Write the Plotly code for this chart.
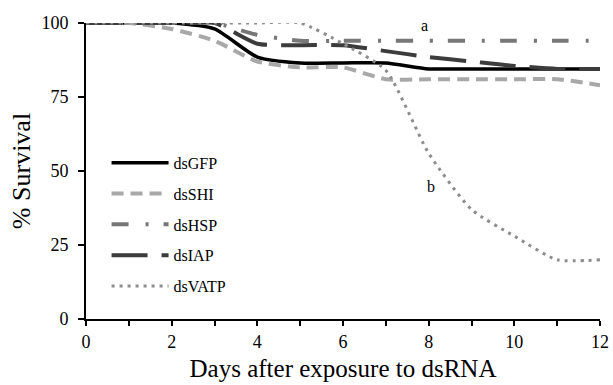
import plotly.graph_objects as go

days = list(range(13))
ds_gfp = [100, 100, 100, 98, 88.5, 86.5, 86.5, 86.5, 84.5, 84.5, 84.5, 84.5, 84.5]
ds_shi = [100, 100, 98, 94, 87, 85, 85, 81, 81, 81, 81, 81, 79]
ds_hsp = [100, 100, 100, 100, 96, 94, 94, 94, 94, 94, 94, 94, 94]
ds_iap = [100, 100, 100, 100, 93, 92.5, 92.5, 90.5, 88.5, 87, 85.5, 84.5, 84.5]
ds_vatp = [100, 100, 100, 100, 100, 100, 93, 84, 56, 37, 28, 20, 20]

x_ticks = [0, 2, 4, 6, 8, 10, 12]
y_ticks = [0, 25, 50, 75, 100]

series = [
    ("dsGFP", ds_gfp, "#000000", 3.5, "solid"),
    ("dsSHI", ds_shi, "#a8a8a8", 4, "12px,7px"),
    ("dsHSP", ds_hsp, "#777777", 4, "17px,17px,3px,15px"),
    ("dsIAP", ds_iap, "#3c3c3c", 4, "36px,14px"),
    ("dsVATP", ds_vatp, "#8c8c8c", 3, "3px,5px"),
]

FONT = "Liberation Serif"

fig = go.Figure()
for i, (name, vals, color, w, dash) in enumerate(series):
    fig.add_trace(go.Scatter(
        x=days, y=vals, name=name, mode="lines",
        line=dict(color=color, width=w, dash=dash, shape="spline", smoothing=0.6),
        legendgroup=f"g{i}",
    ))

fig.add_annotation(x=7.9, y=99, text="a", showarrow=False,
                   font=dict(family=FONT, size=16, color="black"))
fig.add_annotation(x=8.05, y=44.6, text="b", showarrow=False,
                   font=dict(family=FONT, size=16, color="black"))

fig.update_layout(
    width=613, height=385,
    margin=dict(l=86, r=13, t=23, b=66, autoexpand=False),
    plot_bgcolor="white", paper_bgcolor="white",
    font=dict(family=FONT, size=18, color="black"),
    showlegend=True,
    legend=dict(x=0.04, y=0.585, xanchor="left", yanchor="top",
                bgcolor="rgba(0,0,0,0)", font=dict(family=FONT, size=16),
                tracegroupgap=7, traceorder="grouped", itemwidth=57),
    xaxis=dict(range=[0, 12], tickvals=x_ticks, ticks="outside", ticklen=5,
               tickwidth=1.5, tickcolor="black", showline=True, linecolor="black",
               linewidth=2, showgrid=False, zeroline=False, automargin=False,
               minor=dict(dtick=1, ticks="outside", ticklen=5, tickwidth=1.5,
                          tickcolor="black", showgrid=False),
               title=dict(text="Days after exposure to dsRNA",
                          font=dict(family=FONT, size=25), standoff=9),
               tickfont=dict(family=FONT, size=18)),
    yaxis=dict(range=[0, 100], tickvals=y_ticks, ticks="outside", ticklen=6,
               tickwidth=1.5, tickcolor="black", showline=True, linecolor="black",
               linewidth=2, showgrid=False, zeroline=False, automargin=False,
               ticklabelstandoff=6,
               title=dict(text="% Survival", font=dict(family=FONT, size=26), standoff=3),
               tickfont=dict(family=FONT, size=18)),
)

fig.write_html("out.html", config={"displayModeBar": False},
               post_script="document.body.style.margin='0';document.body.style.overflow='hidden';")
